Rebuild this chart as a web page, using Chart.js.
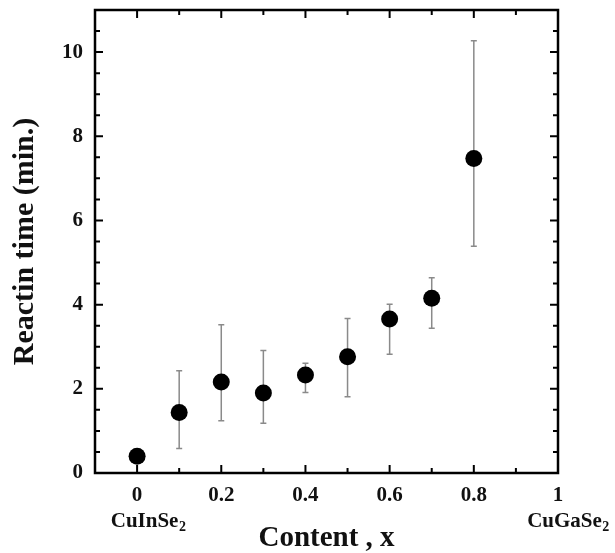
<!DOCTYPE html>
<html>
<head>
<meta charset="utf-8">
<script src="https://cdn.jsdelivr.net/npm/chart.js@4/dist/chart.umd.min.js"></script>
<style>
    html, body { margin: 0; padding: 0; background: #fff; }
    #contenedor { width: 615px; height: 553px; }
</style>
</head>
<body>
<div id="contenedor"><canvas id="plot1"></canvas></div>
<script>
// datos
const contenido = [0, 0.1, 0.2, 0.3, 0.4, 0.5, 0.6, 0.7, 0.8];
const tiempo = [0.40, 1.44, 2.16, 1.90, 2.33, 2.76, 3.66, 4.15, 7.47];
const errorAbajo = [0.35, 0.58, 1.24, 1.18, 1.91, 1.81, 2.82, 3.44, 5.39];
const errorArriba = [0.45, 2.43, 3.52, 2.91, 2.61, 3.67, 4.01, 4.64, 10.27];

const ticksX = [0, 0.2, 0.4, 0.6, 0.8, 1];
const ticksY = [0, 2, 4, 6, 8, 10];
const ticksMenoresX = [0.1, 0.3, 0.5, 0.7, 0.9];
const ticksMenoresY = [0.5, 1, 1.5, 2.5, 3, 3.5, 4.5, 5, 5.5, 6.5, 7, 7.5, 8.5, 9, 9.5, 10.5];

const fuente = "'Liberation Serif', 'Times New Roman', serif";

let puntos = contenido.map((x, i) => ({ x: x, y: tiempo[i] }));

/* barras de error, debajo de los puntos */
const barrasError = {
    id: 'barrasError',
    beforeDatasetsDraw(chart) {
        const ctx = chart.ctx;
        const sx = chart.scales.x;
        const sy = chart.scales.y;
        ctx.save();
        ctx.strokeStyle = '#8a8a8a';
        ctx.lineWidth = 1.5;
        for (let i = 0; i < contenido.length; i++) {
            let px = sx.getPixelForValue(contenido[i]);
            let y1 = sy.getPixelForValue(errorAbajo[i]);
            let y2 = sy.getPixelForValue(errorArriba[i]);
            ctx.beginPath();
            ctx.moveTo(px, y1);
            ctx.lineTo(px, y2);
            ctx.moveTo(px - 3, y1);
            ctx.lineTo(px + 3, y1);
            ctx.moveTo(px - 3, y2);
            ctx.lineTo(px + 3, y2);
            ctx.stroke();
        }
        ctx.restore();
    }
};

/* marco y ticks hacia dentro en los cuatro lados */
const marco = {
    id: 'marco',
    afterDraw(chart) {
        const ctx = chart.ctx;
        const a = chart.chartArea;
        const sx = chart.scales.x;
        const sy = chart.scales.y;
        ctx.save();
        ctx.strokeStyle = '#000';
        ctx.lineWidth = 2;
        let marcaX = (v, largo) => {
            let px = sx.getPixelForValue(v);
            ctx.moveTo(px, a.bottom);
            ctx.lineTo(px, a.bottom - largo);
            ctx.moveTo(px, a.top);
            ctx.lineTo(px, a.top + largo);
        };
        let marcaY = (v, largo) => {
            let py = sy.getPixelForValue(v);
            ctx.moveTo(a.left, py);
            ctx.lineTo(a.left + largo, py);
            ctx.moveTo(a.right, py);
            ctx.lineTo(a.right - largo, py);
        };
        ctx.beginPath();
        ticksX.forEach(v => marcaX(v, 8));
        ticksMenoresX.forEach(v => marcaX(v, 5));
        ticksY.forEach(v => marcaY(v, 8));
        ticksMenoresY.forEach(v => marcaY(v, 5));
        ctx.stroke();
        ctx.lineWidth = 2.5;
        ctx.strokeRect(a.left, a.top, a.right - a.left, a.bottom - a.top);

        /* etiquetas de los extremos con subindice */
        let etiqueta = (texto, px) => {
            ctx.font = 'bold 21px ' + fuente;
            let w1 = ctx.measureText(texto).width;
            ctx.font = 'bold 14px ' + fuente;
            let w2 = ctx.measureText('2').width;
            let x0 = px - (w1 + w2) / 2;
            ctx.fillStyle = '#111';
            ctx.textBaseline = 'alphabetic';
            ctx.textAlign = 'left';
            ctx.font = 'bold 21px ' + fuente;
            ctx.fillText(texto, x0, a.bottom + 54);
            ctx.font = 'bold 14px ' + fuente;
            ctx.fillText('2', x0 + w1 + 0.5, a.bottom + 58);
        };
        etiqueta('CuInSe', sx.getPixelForValue(0) + 11);
        etiqueta('CuGaSe', sx.getPixelForValue(1) + 10);
        ctx.restore();
    }
};

let ctx = document.getElementById('plot1').getContext('2d');

let grafica1 = new Chart(ctx, {
    type: 'scatter',
    data: {
        datasets: [{
            label: 'Reactin time',
            data: puntos,
            pointRadius: 8.5,
            pointHoverRadius: 8.5,
            backgroundColor: '#000',
            borderColor: '#000',
            borderWidth: 0
        }]
    },
    options: {
        responsive: true,
        maintainAspectRatio: false,
        animation: false,
        layout: { padding: { top: 10, right: 57, left: 0, bottom: 0 } },
        plugins: {
            legend: { display: false },
            tooltip: { enabled: false }
        },
        scales: {
            x: {
                type: 'linear',
                min: -0.1,
                max: 1,
                afterFit: (escala) => {
                    escala.height = 80;
                    escala.paddingLeft = 0;
                    escala.paddingRight = 0;
                },
                afterBuildTicks: (escala) => { escala.ticks = ticksX.map(v => ({ value: v })); },
                grid: { display: false, drawTicks: false },
                border: { display: false },
                ticks: {
                    padding: 10,
                    color: '#111',
                    maxRotation: 0,
                    font: { family: fuente, size: 21, weight: 'bold' },
                    callback: (v) => String(+v.toFixed(1))
                },
                title: {
                    display: true,
                    text: 'Content , x',
                    color: '#111',
                    padding: { top: 0, bottom: 0 },
                    font: { family: fuente, size: 29, weight: 'bold', lineHeight: 1.0 }
                }
            },
            y: {
                type: 'linear',
                min: 0,
                max: 11,
                afterFit: (escala) => {
                    escala.width = 95;
                    escala.paddingTop = 0;
                    escala.paddingBottom = 0;
                },
                afterBuildTicks: (escala) => { escala.ticks = ticksY.map(v => ({ value: v })); },
                grid: { display: false, drawTicks: false },
                border: { display: false },
                ticks: {
                    padding: 12,
                    color: '#111',
                    font: { family: fuente, size: 21, weight: 'bold' }
                },
                title: {
                    display: true,
                    text: 'Reactin time (min.)',
                    color: '#111',
                    padding: { top: 7, bottom: 0 },
                    font: { family: fuente, size: 30, weight: 'bold', lineHeight: 1.2 }
                }
            }
        }
    },
    plugins: [barrasError, marco]
});
</script>
</body>
</html>
